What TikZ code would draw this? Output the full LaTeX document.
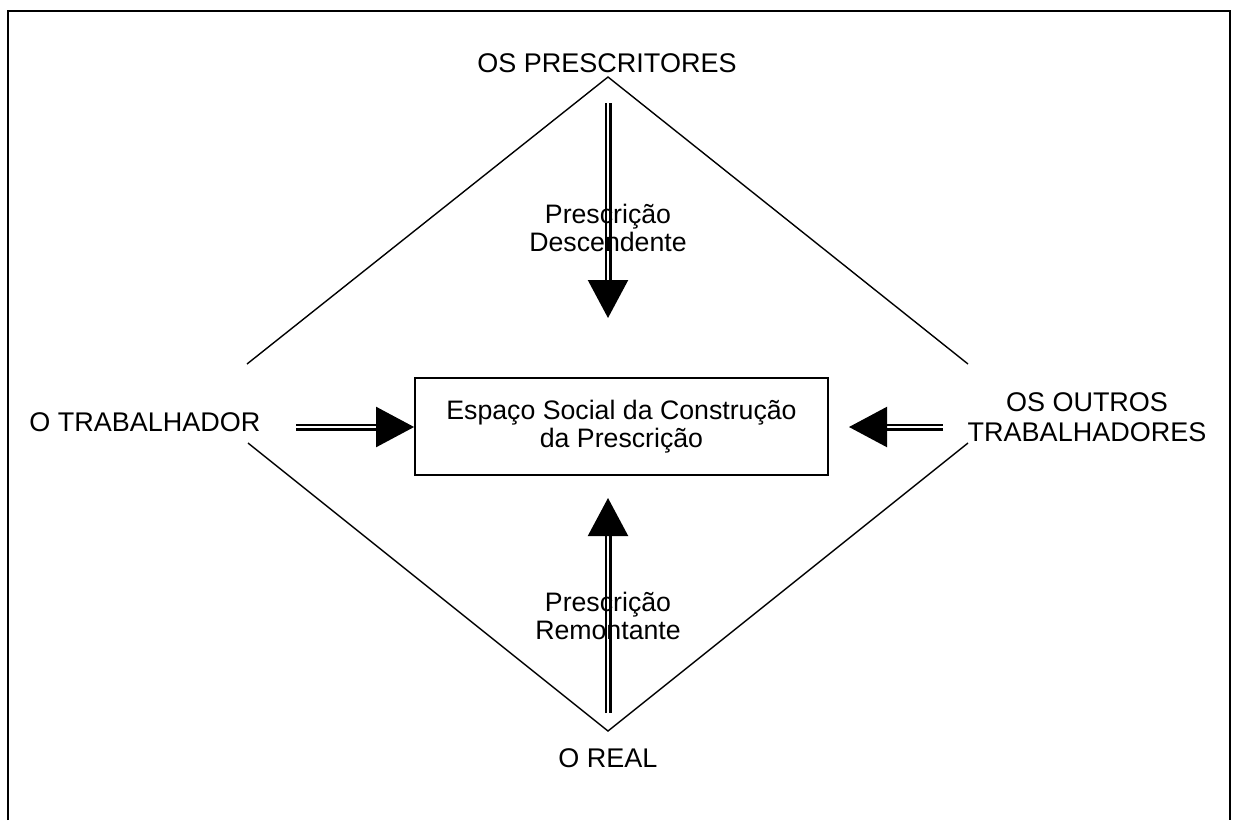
\documentclass[tikz,border=0pt]{standalone}
\usepackage{fontspec}
\setmainfont{Liberation Sans}
\usetikzlibrary{arrows.meta,positioning}

\begin{document}
\begin{tikzpicture}[
    x=1pt, y=-1pt,
    actor/.style={font=\fontsize{27}{29.5}\selectfont, align=center, inner sep=0pt},
    inner/.style={font=\fontsize{26.7}{28.5}\selectfont, align=center, inner sep=0pt},
    espbox/.style={draw, line width=1.8pt, minimum width=413pt, minimum height=97pt, inner sep=0pt},
    side/.style={line width=1.4pt},
    dblarrow/.style={double, double distance=2.6pt, line width=2.2pt,
        -{Triangle[length=38pt,width=40pt]}}
]
\useasboundingbox (0,0) rectangle (1233,820);
\draw[line width=2pt] (8,820) -- (8,11) -- (1230,11) -- (1230,820);

% the four actors and the box
\node[actor] (presc) at (607,63) {OS PRESCRITORES};
\node[actor] (real) at (608,758) {O REAL};
\node[actor] (trab) at (145,422) {O TRABALHADOR};
\node[actor] (outros) at (1087,417) {OS OUTROS\\TRABALHADORES};
\node[espbox] (espaco) at (621.5,426.5) {};
\node[inner] (esptext) at (espaco.center) {Espa\c{c}o Social da Constru\c{c}\~ao\\da Prescri\c{c}\~ao};

% diamond
\coordinate (top) at (608,77);
\coordinate (bot) at (608,731);
\coordinate (ulend) at (247,364);
\coordinate (urend) at (968,364);
\coordinate (llend) at (248,443);
\coordinate (lrend) at (968,443);
\draw[side] (ulend) -- (top) -- (urend);
\draw[side] (llend) -- (bot) -- (lrend);

% prescription arrows
\coordinate (dstart) at (608,103);
\coordinate (dtip) at (608,318);
\coordinate (ustart) at (608,713);
\coordinate (utip) at (608,498);
\coordinate (lstart) at (296,427);
\coordinate (rstart) at (943,427);
\coordinate (rtip) at (849,427);
\draw[dblarrow] (dstart) -- (dtip);
\draw[dblarrow] (ustart) -- (utip);
\draw[dblarrow] (lstart) -- (espaco.west |- lstart);
\draw[dblarrow] (rstart) -- (rtip);

\node[inner] (desc) at (608,228) {Prescri\c{c}\~ao\\Descendente};
\node[inner] (remo) at (608,616) {Prescri\c{c}\~ao\\Remontante};
\end{tikzpicture}
\end{document}
